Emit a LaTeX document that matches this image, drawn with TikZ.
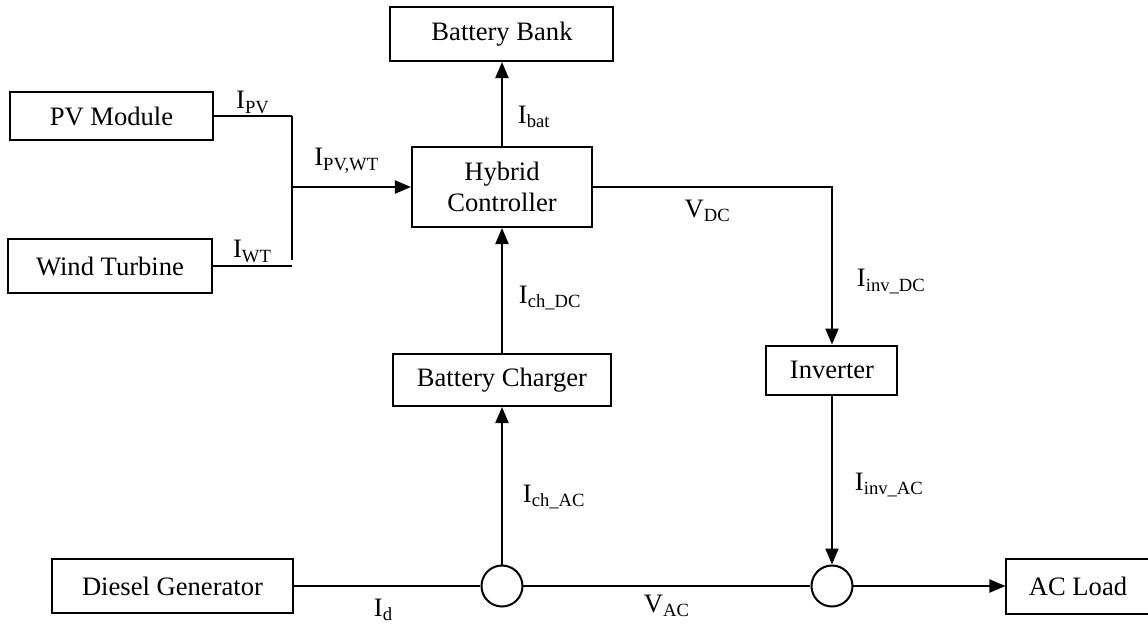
\documentclass[tikz,border=0pt]{standalone}
\usepackage{fontspec}
\setmainfont{Liberation Serif}
\usepackage{tikz}
\usetikzlibrary{arrows.meta,positioning}
\newcommand{\sig}[2]{#1\textsubscript{#2}}
\tikzset{
  blk/.style={rectangle, draw=black, fill=white, line width=1pt, inner sep=0pt,
              align=center, font=\fontsize{13.3}{15.5}\selectfont},
  junc/.style={circle, draw=black, line width=1pt, minimum size=20.5pt, inner sep=0pt},
  lbl/.style={font=\fontsize{13.3}{15}\selectfont, inner sep=0pt},
  flow/.style={-{Triangle[length=8pt,width=6.5pt]}, draw=black, line width=1pt},
  wire/.style={draw=black, line width=1pt},
  thinwire/.style={draw=black, line width=0.6pt}
}

\begin{document}
\begin{tikzpicture}
  \useasboundingbox (-251pt,93.5pt) rectangle (323pt,-218pt);
  \node[blk, minimum width=90pt, minimum height=40pt] (ctrl) at (0,0) {Hybrid\\Controller};
  \node[blk, above=42pt of ctrl, minimum width=111.5pt, minimum height=27pt] (bank) {Battery Bank};
  \node[blk, below=62.5pt of ctrl, minimum width=109pt, minimum height=26pt] (chg) {Battery Charger};
  \node[junc, below=78.75pt of chg] (acbus) {};
  \node[blk, left=93.25pt of acbus, minimum width=120.5pt, minimum height=27pt] (dsl) {Diesel Generator};
  \node[junc, right=143.5pt of acbus] (loadbus) {};
  \node[blk, right=76pt of loadbus, minimum width=71.5pt, minimum height=27.5pt] (load) {AC Load};
  \node[blk, above=84.5pt of loadbus, minimum width=65.5pt, minimum height=24.5pt] (inv) {Inverter};
  \node[blk, minimum width=101.5pt, minimum height=24pt] (pv) at (-195.25pt,35.5pt) {PV Module};
  \node[blk, minimum width=102pt, minimum height=27pt] (wind) at (-196pt,-39.5pt) {Wind Turbine};
  % DC side
  \coordinate[left=59.5pt of ctrl.west] (bus);
  \coordinate (pvtap) at (bus |- pv.east);
  \coordinate (wttap) at (bus |- wind.east);
  \coordinate[above=3pt of wttap] (busend);
  \draw[thinwire] (pv.east) -- node[lbl, above=1pt] {\sig{I}{PV}} (pvtap);
  \draw[thinwire] (wind.east) -- node[lbl, above=1.5pt] {\sig{I}{WT}} (wttap);
  \draw[wire] (pvtap) -- (busend);
  \draw[flow] (bus) -- node[lbl, pos=0.46, above=6.5pt] {\sig{I}{PV,WT}} (ctrl.west);
  \draw[flow] (ctrl.north) -- node[lbl, pos=0.35, right=7.5pt] {\sig{I}{bat}} (bank.south);
  \draw[flow] (chg.north) -- node[lbl, pos=0.44, right=8pt] {\sig{I}{ch\_DC}} (ctrl.south);
  \draw[flow] (ctrl.east) -| node[lbl, pos=0.24, below=6pt] {\sig{V}{DC}}
    node[lbl, pos=0.8, right=12pt] {\sig{I}{inv\_DC}} (inv.north);
  % AC side
  \draw[flow] (acbus.north) -- node[lbl, pos=0.43, right=10pt] {\sig{I}{ch\_AC}} (chg.south);
  \draw[flow] (inv.south) -- node[lbl, pos=0.53, right=11pt] {\sig{I}{inv\_AC}} (loadbus.north);
  \draw[wire] (dsl.east) -- node[lbl, pos=0.48, below=6pt] {\sig{I}{d}} (acbus.west);
  \draw[wire] (acbus.east) -- node[lbl, below=4pt] {\sig{V}{AC}} (loadbus.west);
  \draw[flow] (loadbus.east) -- (load.west);
\end{tikzpicture}
\end{document}
